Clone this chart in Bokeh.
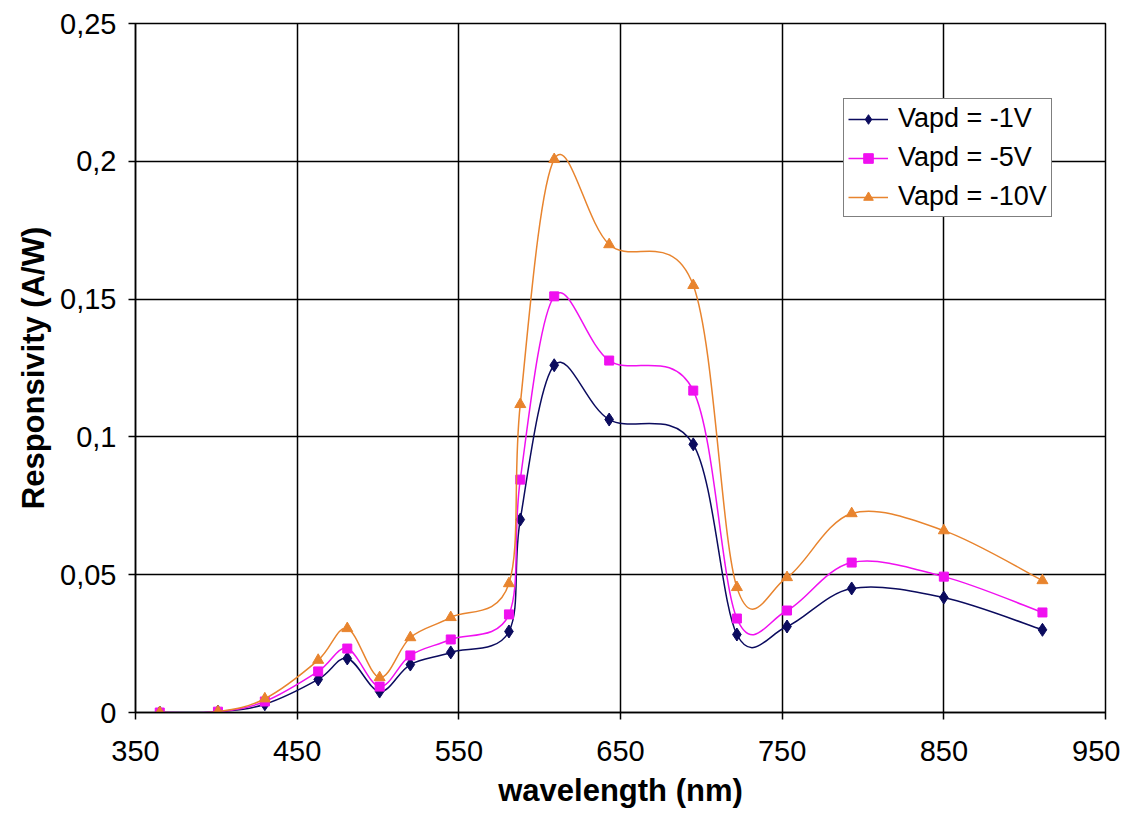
import numpy as np
from bokeh.plotting import figure
from bokeh.models import Range1d, FixedTicker, CustomJSTickFormatter, Legend, LegendItem
from bokeh.embed import file_html
from bokeh.resources import INLINE

# ---- data ----
wavelength = [365, 401, 430, 463, 481, 501, 520, 545, 581, 588, 609, 643, 695, 722, 753, 793, 850, 911]
resp_1v = [0.0, 0.0003, 0.003, 0.012, 0.0196, 0.0076, 0.0174, 0.0218, 0.0294, 0.070, 0.126, 0.1063,
           0.0973, 0.0283, 0.0312, 0.045, 0.0417, 0.030]
resp_5v = [0.0, 0.0003, 0.004, 0.0149, 0.0232, 0.0094, 0.0207, 0.0265, 0.0356, 0.0845, 0.151, 0.1277,
           0.1168, 0.0341, 0.037, 0.0544, 0.0493, 0.0363]
resp_10v = [0.0, 0.0003, 0.005, 0.019, 0.0305, 0.0127, 0.0272, 0.0345, 0.0468, 0.1118, 0.2007, 0.1698,
            0.155, 0.0454, 0.049, 0.0722, 0.066, 0.0479]
series_names = ["Vapd = -1V", "Vapd = -5V", "Vapd = -10V"]
x_ticks = [350, 450, 550, 650, 750, 850, 950]
y_ticks = [0, 0.05, 0.1, 0.15, 0.2, 0.25]

FONT = "Liberation Sans"


def bezier_segments(xs, ys):
    """Excel-like smoothed line: cubic Bezier segments with Catmull-Rom control points."""
    x = np.asarray(xs, float)
    y = np.asarray(ys, float)
    n = len(x)
    xp = np.concatenate([[x[0]], x, [x[-1]]])
    yp = np.concatenate([[y[0]], y, [y[-1]]])
    cx0 = x[:-1] + (xp[2:n + 1] - xp[0:n - 1]) / 6.0
    cy0 = y[:-1] + (yp[2:n + 1] - yp[0:n - 1]) / 6.0
    cx1 = x[1:] - (xp[3:n + 2] - xp[1:n]) / 6.0
    cy1 = y[1:] - (yp[3:n + 2] - yp[1:n]) / 6.0
    return dict(x0=x[:-1], y0=y[:-1], x1=x[1:], y1=y[1:], cx0=cx0, cy0=cy0, cx1=cx1, cy1=cy1)


p = figure(width=1120, height=811,
           x_range=Range1d(350, 950), y_range=Range1d(0, 0.25),
           output_backend="svg", toolbar_location=None,
           min_border_left=135, min_border_right=15, min_border_top=23, min_border_bottom=99,
           background_fill_color="white", border_fill_color="white")

p.outline_line_color = "black"
p.outline_line_width = 1.5

for ax in (p.xaxis[0], p.yaxis[0]):
    ax.major_label_text_font = FONT
    ax.major_label_text_font_size = "29px"
    ax.major_label_text_color = "black"
    ax.axis_label_text_font = FONT
    ax.axis_label_text_font_style = "bold"
    ax.axis_label_text_font_size = "31px"
    ax.axis_label_text_color = "black"
    ax.axis_line_color = "black"
    ax.axis_line_width = 1.5
    ax.major_tick_line_color = "black"
    ax.major_tick_line_width = 1.5
    ax.major_tick_out = 7
    ax.major_tick_in = 0
    ax.minor_tick_line_color = None

p.xaxis[0].ticker = FixedTicker(ticks=x_ticks)
p.yaxis[0].ticker = FixedTicker(ticks=y_ticks)
p.xaxis[0].axis_label = "wavelength (nm)"
p.yaxis[0].axis_label = "Responsivity (A/W)"
p.xaxis[0].major_label_standoff = 21
p.yaxis[0].major_label_standoff = 12
p.xaxis[0].axis_label_standoff = 9
p.yaxis[0].axis_label_standoff = 6
p.yaxis[0].formatter = CustomJSTickFormatter(code="""
    let s = tick.toFixed(2);
    s = s.replace(/0+$/, '').replace(/\\.$/, '');
    return s.replace('.', ',');
""")

p.xgrid.ticker = FixedTicker(ticks=x_ticks)
p.ygrid.ticker = FixedTicker(ticks=y_ticks)
for g in (p.xgrid[0], p.ygrid[0]):
    g.grid_line_color = "black"
    g.grid_line_width = 1.5

series = [
    (resp_1v, "#0B0B5E", "diamond", 13),
    (resp_5v, "#F010F0", "square", 9),
    (resp_10v, "#E8842E", "triangle", 11),
]

items = []
for (vals, color, marker, size), name in zip(series, series_names):
    seg = bezier_segments(wavelength, vals)
    r_line = p.bezier(x0=seg["x0"], y0=seg["y0"], x1=seg["x1"], y1=seg["y1"],
                      cx0=seg["cx0"], cy0=seg["cy0"], cx1=seg["cx1"], cy1=seg["cy1"],
                      line_color=color, line_width=1.5)
    r_pts = p.scatter(x=wavelength, y=vals, marker=marker, size=size,
                      fill_color=color, line_color=color)
    items.append(LegendItem(label=name, renderers=[r_line, r_pts]))

legend = Legend(items=items, location=(708, 495))
legend.label_text_font = FONT
legend.label_text_font_size = "27px"
legend.label_text_color = "black"
legend.border_line_color = "black"
legend.border_line_width = 1.5
legend.background_fill_color = "white"
legend.background_fill_alpha = 1.0
legend.glyph_width = 40
legend.glyph_height = 24
legend.label_height = 24
legend.spacing = 8
legend.padding = 4
legend.margin = 0
legend.label_standoff = 10
p.add_layout(legend)

open("out.html", "w").write(file_html(p, INLINE))
